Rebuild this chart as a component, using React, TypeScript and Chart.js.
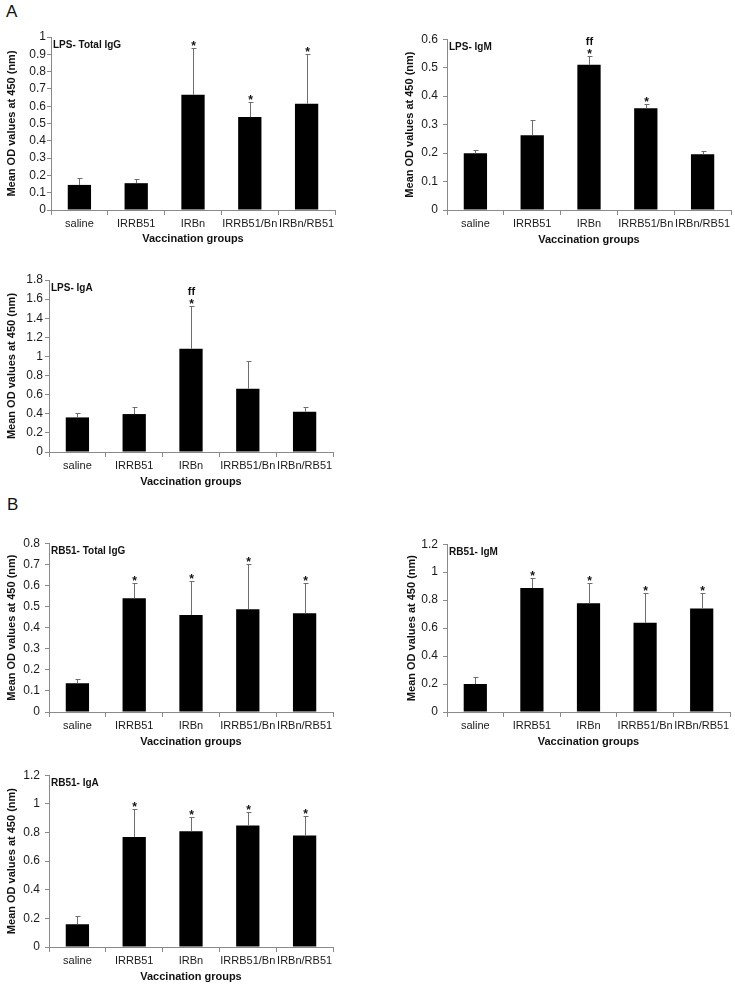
import React, { useEffect, useRef } from 'react';
import { Chart, registerables } from 'chart.js';

Chart.register(...registerables);

const FONT = "'Liberation Sans', Arial, sans-serif";

const groups = ['saline', 'IRRB51', 'IRBn', 'IRRB51/Bn', 'IRBn/RB51'];

// Panel A – LPS
const lpsIgGMean = [0.145, 0.155, 0.666, 0.537, 0.614];
const lpsIgGSd = [0.042, 0.024, 0.27, 0.088, 0.286];
const lpsIgGStars = ['', '', '*', '*', '*'];
const lpsIgGFf = ['', '', '', '', ''];

const lpsIgMMean = [0.199, 0.263, 0.51, 0.357, 0.196];
const lpsIgMSd = [0.012, 0.053, 0.032, 0.014, 0.01];
const lpsIgMStars = ['', '', '*', '*', ''];
const lpsIgMFf = ['', '', 'ff', '', ''];

const lpsIgAMean = [0.362, 0.397, 1.08, 0.662, 0.421];
const lpsIgASd = [0.048, 0.073, 0.45, 0.292, 0.049];
const lpsIgAStars = ['', '', '*', '', ''];
const lpsIgAFf = ['', '', 'ff', '', ''];

// Panel B – RB51
const rbIgGMean = [0.136, 0.539, 0.46, 0.487, 0.468];
const rbIgGSd = [0.022, 0.072, 0.16, 0.213, 0.143];
const rbIgGStars = ['', '*', '*', '*', '*'];
const rbIgGFf = ['', '', '', '', ''];

const rbIgMMean = [0.2, 0.886, 0.778, 0.638, 0.741];
const rbIgMSd = [0.05, 0.07, 0.142, 0.21, 0.107];
const rbIgMStars = ['', '*', '*', '*', '*'];
const rbIgMFf = ['', '', '', '', ''];

const rbIgAMean = [0.159, 0.769, 0.808, 0.848, 0.778];
const rbIgASd = [0.058, 0.196, 0.1, 0.097, 0.137];
const rbIgAStars = ['', '*', '*', '*', '*'];
const rbIgAFf = ['', '', '', '', ''];

const yTitle = 'Mean OD values at 450 (nm)';
const xTitle = 'Vaccination groups';

type PanelProps = {
  title: string;
  mean: number[];
  sd: number[];
  stars: string[];
  ffs: string[];
  yMax: number;
  yStep: number;
  L: number;
  T: number;
  R: number;
  B: number;
  tickPad: number;
  titlePad: number;
  xAxisH: number;
};

const YW = 50;
const PAD_TOP = 10;
const PAD_RIGHT = 4;

function Panel(p: PanelProps) {
  const ref = useRef<HTMLCanvasElement | null>(null);
  const width = p.R - p.L + YW + PAD_RIGHT;
  const height = p.B - p.T + PAD_TOP + p.xAxisH;

  useEffect(() => {
    if (!ref.current) return;
    const annot = {
      id: 'annot',
      afterDatasetsDraw(chart: any) {
        const { ctx, chartArea } = chart;
        const y = chart.scales.y;
        const meta = chart.getDatasetMeta(0);
        ctx.save();
        meta.data.forEach((bar: any, i: number) => {
          const v = p.mean[i];
          const top = Math.round(y.getPixelForValue(v + p.sd[i])) + 0.5;
          const x = Math.round(bar.x) + 0.5;
          ctx.strokeStyle = '#6e6e6e';
          ctx.lineWidth = 1;
          ctx.beginPath();
          ctx.moveTo(x, bar.y);
          ctx.lineTo(x, top);
          ctx.moveTo(x - 2, top);
          ctx.lineTo(x + 3, top);
          ctx.stroke();
          ctx.fillStyle = '#111';
          ctx.textAlign = 'center';
          ctx.textBaseline = 'alphabetic';
          if (p.stars[i]) {
            ctx.font = `bold 12px ${FONT}`;
            ctx.fillText(p.stars[i], x, top + 1);
          }
          if (p.ffs[i]) {
            ctx.font = `bold 11px ${FONT}`;
            ctx.fillText(p.ffs[i], x, top - 12);
          }
        });
        ctx.font = `bold 10px ${FONT}`;
        ctx.textAlign = 'left';
        ctx.textBaseline = 'middle';
        ctx.fillStyle = '#111';
        ctx.fillText(p.title, chartArea.left + 2, chartArea.top + 8);
        ctx.restore();
      },
    };

    const chart = new Chart(ref.current, {
      type: 'bar',
      data: {
        labels: groups,
        datasets: [
          {
            data: p.mean,
            backgroundColor: '#000',
            borderWidth: 0,
            barPercentage: 0.41,
            categoryPercentage: 1,
          },
        ],
      },
      options: {
        responsive: false,
        animation: false,
        devicePixelRatio: 1,
        layout: { padding: { top: PAD_TOP, right: PAD_RIGHT, left: 0, bottom: 0 } },
        plugins: { legend: { display: false }, tooltip: { enabled: false }, title: { display: false } },
        scales: {
          x: {
            grid: {
              display: true,
              drawOnChartArea: false,
              drawTicks: true,
              tickLength: 5,
              color: '#8a8a8a',
              offset: true,
            },
            border: { display: true, color: '#8a8a8a' },
            ticks: {
              autoSkip: false,
              maxRotation: 0,
              minRotation: 0,
              padding: 2,
              color: '#1a1a1a',
              font: { family: FONT, size: 11 },
            },
            title: {
              display: true,
              text: xTitle,
              color: '#111',
              font: { family: FONT, size: 11, weight: 'bold' },
              padding: { top: 4, bottom: 4 },
            },
            afterFit: (s: any) => {
              s.height = p.xAxisH;
            },
          },
          y: {
            min: 0,
            max: p.yMax,
            grid: {
              display: true,
              drawOnChartArea: false,
              drawTicks: true,
              tickLength: 4,
              color: '#8a8a8a',
            },
            border: { display: true, color: '#8a8a8a' },
            ticks: {
              stepSize: p.yStep,
              autoSkip: false,
              padding: p.tickPad,
              color: '#1a1a1a',
              font: { family: FONT, size: 12 },
              callback: (v: any) => String(Math.round(Number(v) * 10) / 10),
            },
            title: {
              display: true,
              text: yTitle,
              color: '#111',
              font: { family: FONT, size: 11, weight: 'bold' },
              padding: { top: p.titlePad, bottom: 0 },
            },
            afterFit: (s: any) => {
              s.width = YW;
            },
          },
        },
      },
      plugins: [annot],
    } as any);
    return () => chart.destroy();
  }, []);

  return (
    <canvas
      ref={ref}
      width={width}
      height={height}
      style={{ position: 'absolute', left: p.L - YW, top: p.T - PAD_TOP, width, height }}
    />
  );
}

export default function App() {
  const letter = (t: string, left: number, top: number) => (
    <div
      style={{
        position: 'absolute',
        left,
        top,
        fontFamily: FONT,
        fontSize: 17,
        lineHeight: '17px',
        color: '#111',
      }}
    >
      {t}
    </div>
  );
  return (
    <div style={{ position: 'absolute', left: 0, top: 0, width: 735, height: 988, background: '#fff' }}>
      {letter('A', 6, 3)}
      {letter('B', 7, 496)}
      <Panel title="LPS- Total IgG" mean={lpsIgGMean} sd={lpsIgGSd} stars={lpsIgGStars} ffs={lpsIgGFf}
        yMax={1} yStep={0.1} L={51} T={37} R={335} B={210} tickPad={1} titlePad={4} xAxisH={40} />
      <Panel title="LPS- IgM" mean={lpsIgMMean} sd={lpsIgMSd} stars={lpsIgMStars} ffs={lpsIgMFf}
        yMax={0.6} yStep={0.1} L={447} T={37} R={731} B={210} tickPad={5} titlePad={6} xAxisH={41} />
      <Panel title="LPS- IgA" mean={lpsIgAMean} sd={lpsIgASd} stars={lpsIgAStars} ffs={lpsIgAFf}
        yMax={1.8} yStep={0.2} L={49} T={280} R={333} B={452} tickPad={2} titlePad={6} xAxisH={41} />
      <Panel title="RB51- Total IgG" mean={rbIgGMean} sd={rbIgGSd} stars={rbIgGStars} ffs={rbIgGFf}
        yMax={0.8} yStep={0.1} L={49} T={541} R={333} B={712} tickPad={5} titlePad={6} xAxisH={41} />
      <Panel title="RB51- IgM" mean={rbIgMMean} sd={rbIgMSd} stars={rbIgMStars} ffs={rbIgMFf}
        yMax={1.2} yStep={0.2} L={447} T={542} R={730} B={712} tickPad={5} titlePad={8} xAxisH={41} />
      <Panel title="RB51- IgA" mean={rbIgAMean} sd={rbIgASd} stars={rbIgAStars} ffs={rbIgAFf}
        yMax={1.2} yStep={0.2} L={49} T={773} R={333} B={947} tickPad={5} titlePad={6} xAxisH={41} />
    </div>
  );
}
